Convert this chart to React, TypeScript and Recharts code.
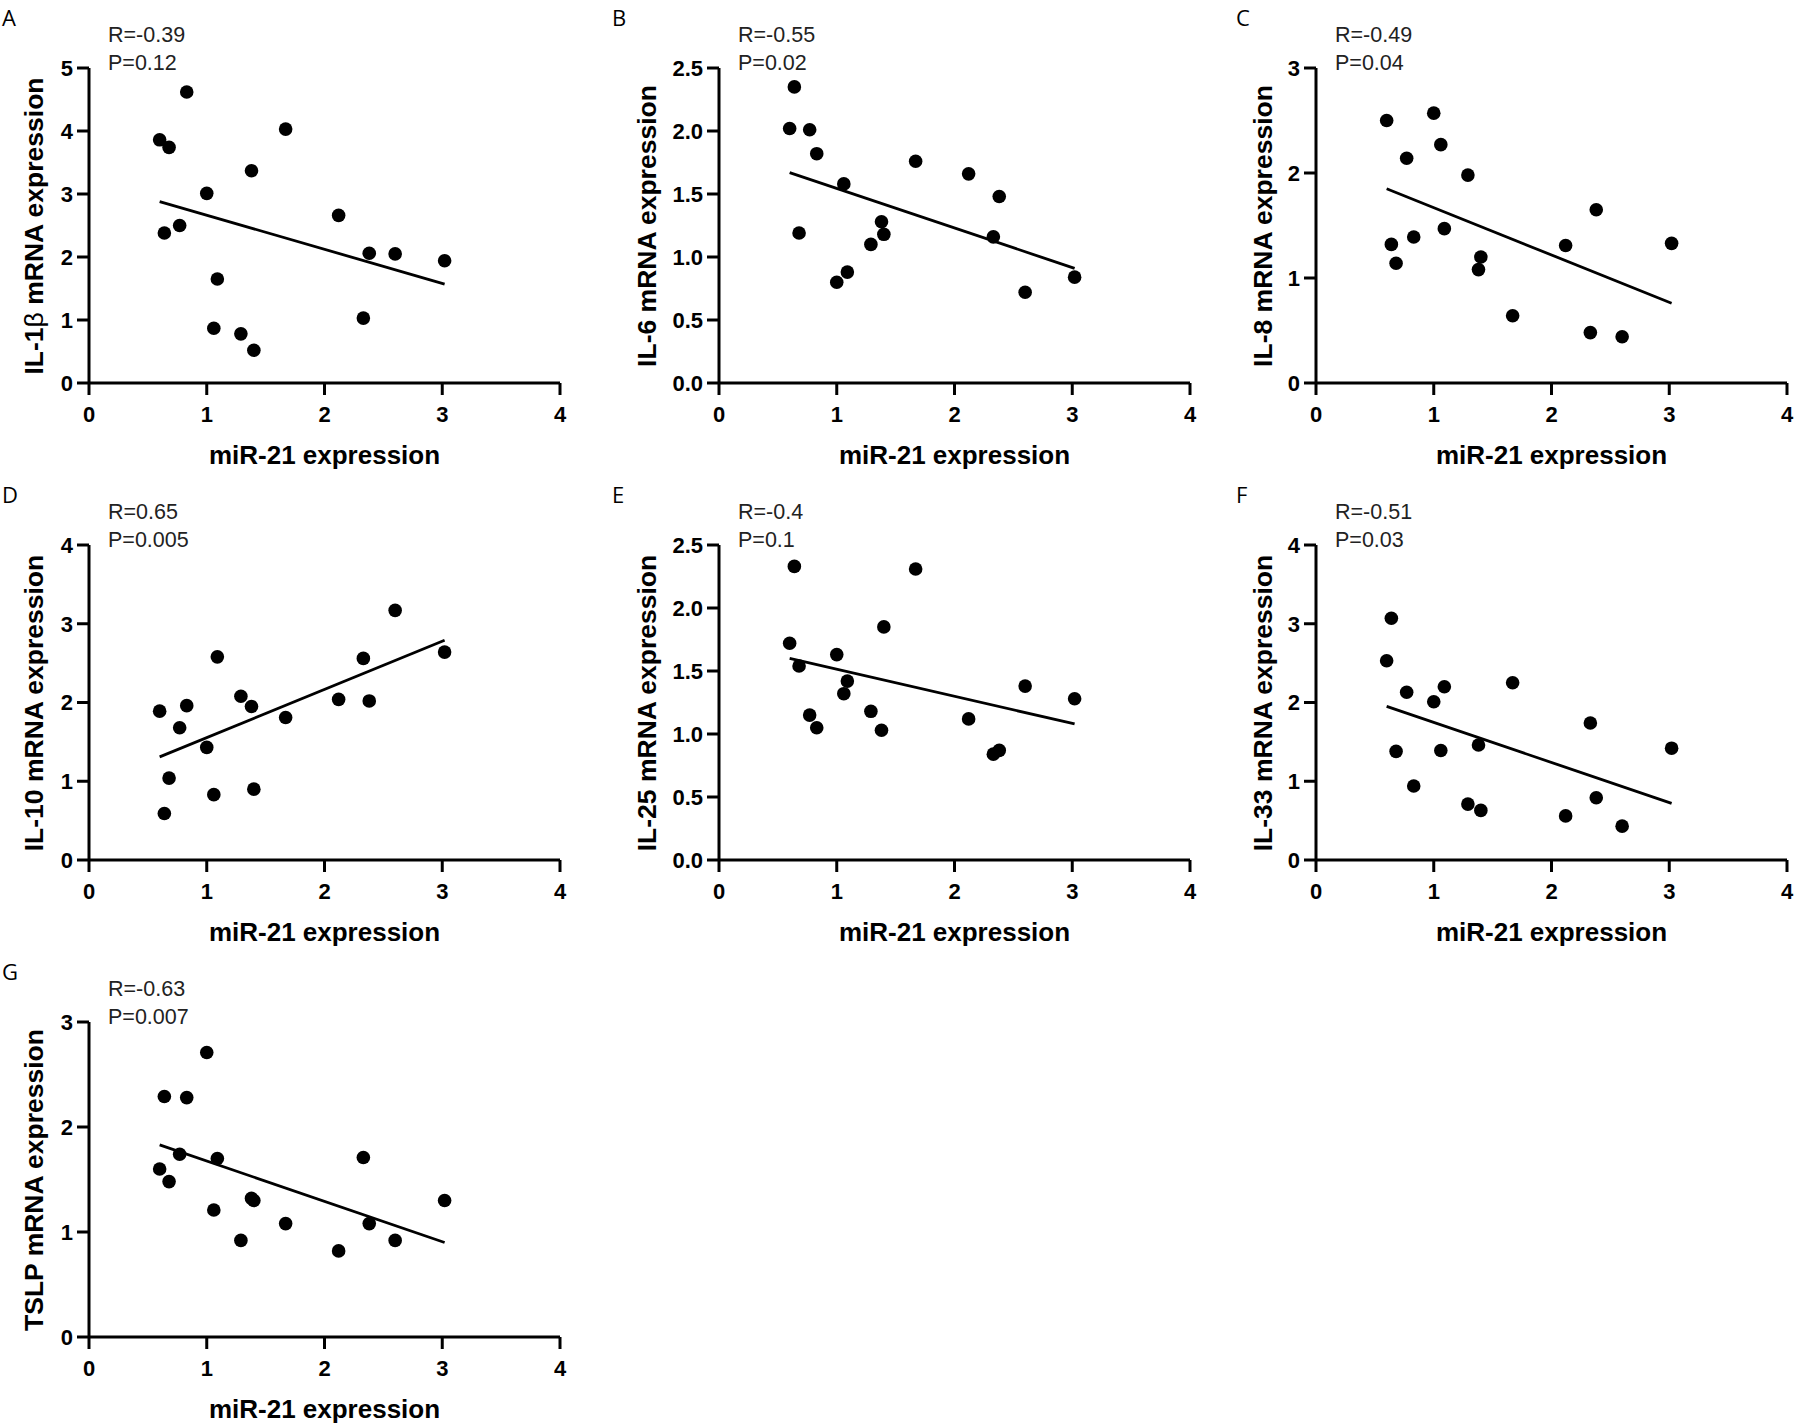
import React from 'react';
import { ScatterChart, Scatter, XAxis, YAxis, ReferenceLine } from 'recharts';

// miR-21 expression (shared x values, 17 samples)
const mir21 = [0.60, 0.64, 0.68, 0.77, 0.83, 1.00, 1.06, 1.09, 1.29, 1.38, 1.40, 1.67, 2.12, 2.33, 2.38, 2.60, 3.02];

// mRNA expression series
const il1b = [3.86, 2.38, 3.74, 2.50, 4.62, 3.01, 0.87, 1.65, 0.78, 3.37, 0.52, 4.03, 2.66, 1.03, 2.06, 2.05, 1.94];
const il6 = [2.02, 2.35, 1.19, 2.01, 1.82, 0.80, 1.58, 0.88, 1.10, 1.28, 1.18, 1.76, 1.66, 1.16, 1.48, 0.72, 0.84];
const il8 = [2.50, 1.32, 1.14, 2.14, 1.39, 2.57, 2.27, 1.47, 1.98, 1.08, 1.20, 0.64, 1.31, 0.48, 1.65, 0.44, 1.33];
const il10 = [1.89, 0.59, 1.04, 1.68, 1.96, 1.43, 0.83, 2.58, 2.08, 1.95, 0.90, 1.81, 2.04, 2.56, 2.02, 3.17, 2.64];
const il25 = [1.72, 2.33, 1.54, 1.15, 1.05, 1.63, 1.32, 1.42, 1.18, 1.03, 1.85, 2.31, 1.12, 0.84, 0.87, 1.38, 1.28];
const il33 = [2.53, 3.07, 1.38, 2.13, 0.94, 2.01, 1.39, 2.20, 0.71, 1.46, 0.63, 2.25, 0.56, 1.74, 0.79, 0.43, 1.42];
const tslp = [1.60, 2.29, 1.48, 1.74, 2.28, 2.71, 1.21, 1.70, 0.92, 1.32, 1.30, 1.08, 0.82, 1.71, 1.08, 0.92, 1.30];

// regression line end points
const fitX = [0.60, 3.02];
const fitIl1b = [2.88, 1.57];
const fitIl6 = [1.67, 0.91];
const fitIl8 = [1.85, 0.76];
const fitIl10 = [1.31, 2.79];
const fitIl25 = [1.60, 1.08];
const fitIl33 = [1.95, 0.72];
const fitTslp = [1.83, 0.90];

// ticks
const xTicks = [0, 1, 2, 3, 4];
const yTicks5 = [0, 1, 2, 3, 4, 5];
const yTicksHalf = [0, 0.5, 1, 1.5, 2, 2.5];
const yTicks3 = [0, 1, 2, 3];
const yTicks4 = [0, 1, 2, 3, 4];

const letters = ['A', 'B', 'C', 'D', 'E', 'F', 'G'];
const yTitlesBefore = ['IL-1', 'IL-6', 'IL-8', 'IL-10', 'IL-25', 'IL-33', 'TSLP'];
const yTitlesGreek = ['β', '', '', '', '', '', ''];
const rTexts = ['R=-0.39', 'R=-0.55', 'R=-0.49', 'R=0.65', 'R=-0.4', 'R=-0.51', 'R=-0.63'];
const pTexts = ['P=0.12', 'P=0.02', 'P=0.04', 'P=0.005', 'P=0.1', 'P=0.03', 'P=0.007'];
const xTitle = 'miR-21 expression';

// layout
const colLeft = [89, 719, 1316];
const rowTop = [68, 545, 1022];
const letterX = [2, 612, 1236];
const yTitleX = [34, 647, 1263];
const PW = 471;
const PH = 315;
const YW = 80;
const MT = 20;
const MR = 20;
const XH = 50;
const FONT = '"Liberation Sans", Arial, sans-serif';

const oneDec = (v: number) => v.toFixed(1);
const intFmt = (v: number) => String(v);

type PanelDef = {
  values: number[];
  fit: number[];
  yMax: number;
  yTicks: number[];
  fmt: (v: number) => string;
  col: number;
  row: number;
};

const panels: PanelDef[] = [
  { values: il1b, fit: fitIl1b, yMax: 5, yTicks: yTicks5, fmt: intFmt, col: 0, row: 0 },
  { values: il6, fit: fitIl6, yMax: 2.5, yTicks: yTicksHalf, fmt: oneDec, col: 1, row: 0 },
  { values: il8, fit: fitIl8, yMax: 3, yTicks: yTicks3, fmt: intFmt, col: 2, row: 0 },
  { values: il10, fit: fitIl10, yMax: 4, yTicks: yTicks4, fmt: intFmt, col: 0, row: 1 },
  { values: il25, fit: fitIl25, yMax: 2.5, yTicks: yTicksHalf, fmt: oneDec, col: 1, row: 1 },
  { values: il33, fit: fitIl33, yMax: 4, yTicks: yTicks4, fmt: intFmt, col: 2, row: 1 },
  { values: tslp, fit: fitTslp, yMax: 3, yTicks: yTicks3, fmt: intFmt, col: 0, row: 2 },
];

const Dot = (props: any) => {
  const { cx, cy } = props;
  if (cx == null || cy == null) return <g />;
  return <circle cx={cx} cy={cy} r={6.8} fill="#000" />;
};

const tickStyle = { fill: '#000', fontSize: 22, fontWeight: 700, fontFamily: FONT };
const axisStroke = { stroke: '#000', strokeWidth: 3 };

function Panel({ def, idx }: { def: PanelDef; idx: number }) {
  const left = colLeft[def.col];
  const top = rowTop[def.row];
  const data = mir21.map((x, i) => ({ x, y: def.values[i] }));
  return (
    <>
      <div style={{ position: 'absolute', left: left - YW, top: top - MT }}>
        <ScatterChart
          width={YW + PW + MR}
          height={MT + PH + XH}
          margin={{ top: MT, right: MR, bottom: 0, left: 0 }}
        >
          <XAxis
            type="number"
            dataKey="x"
            domain={[0, 4]}
            ticks={xTicks}
            interval={0}
            height={XH}
            axisLine={axisStroke}
            tickLine={axisStroke}
            tickSize={12}
            tickMargin={11}
            tick={tickStyle}
          />
          <YAxis
            type="number"
            dataKey="y"
            domain={[0, def.yMax]}
            ticks={def.yTicks}
            interval={0}
            width={YW}
            axisLine={axisStroke}
            tickLine={axisStroke}
            tickSize={12}
            tickMargin={4}
            tick={tickStyle}
            tickFormatter={def.fmt}
          />
          <ReferenceLine
            segment={[
              { x: fitX[0], y: def.fit[0] },
              { x: fitX[1], y: def.fit[1] },
            ]}
            stroke="#000"
            strokeWidth={2.8}
            ifOverflow="visible"
          />
          <Scatter data={data} fill="#000" isAnimationActive={false} shape={Dot} />
        </ScatterChart>
      </div>
      {/* panel letter */}
      <div
        style={{
          position: 'absolute',
          left: letterX[def.col],
          top: top - 66,
          fontFamily: '"Open Sans", "Noto Sans", sans-serif',
          fontSize: 22,
          lineHeight: '30px',
          color: '#000',
        }}
      >
        {letters[idx]}
      </div>
      {/* R and P */}
      <div
        style={{
          position: 'absolute',
          left: left + 19,
          top: top - 33 - 12,
          fontFamily: FONT,
          fontSize: 21.5,
          lineHeight: '24px',
          color: '#222',
          whiteSpace: 'nowrap',
        }}
      >
        {rTexts[idx]}
      </div>
      <div
        style={{
          position: 'absolute',
          left: left + 19,
          top: top - 5 - 12,
          fontFamily: FONT,
          fontSize: 21.5,
          lineHeight: '24px',
          color: '#222',
          whiteSpace: 'nowrap',
        }}
      >
        {pTexts[idx]}
      </div>
      {/* x title */}
      <div
        style={{
          position: 'absolute',
          left: left - 100,
          width: PW + 200,
          top: top + PH + 72 - 15,
          textAlign: 'center',
          fontFamily: FONT,
          fontWeight: 700,
          fontSize: 26,
          lineHeight: '30px',
          color: '#000',
          whiteSpace: 'nowrap',
        }}
      >
        {xTitle}
      </div>
      {/* y title */}
      <div
        style={{
          position: 'absolute',
          left: yTitleX[def.col],
          top: top + PH / 2,
          transform: 'translate(-50%, -50%) rotate(-90deg)',
          fontFamily: FONT,
          fontWeight: 700,
          fontSize: 26.5,
          lineHeight: '30px',
          color: '#000',
          whiteSpace: 'nowrap',
        }}
      >
        {yTitlesBefore[idx]}
        {yTitlesGreek[idx] ? <span style={{ fontWeight: 400 }}>{yTitlesGreek[idx]}</span> : null}
        {' mRNA expression'}
      </div>
    </>
  );
}

export default function App() {
  return (
    <div
      style={{
        position: 'absolute',
        left: 0,
        top: 0,
        width: 1795,
        height: 1424,
        overflow: 'hidden',
        background: '#fff',
      }}
    >
      {panels.map((p, i) => (
        <Panel key={i} def={p} idx={i} />
      ))}
    </div>
  );
}
